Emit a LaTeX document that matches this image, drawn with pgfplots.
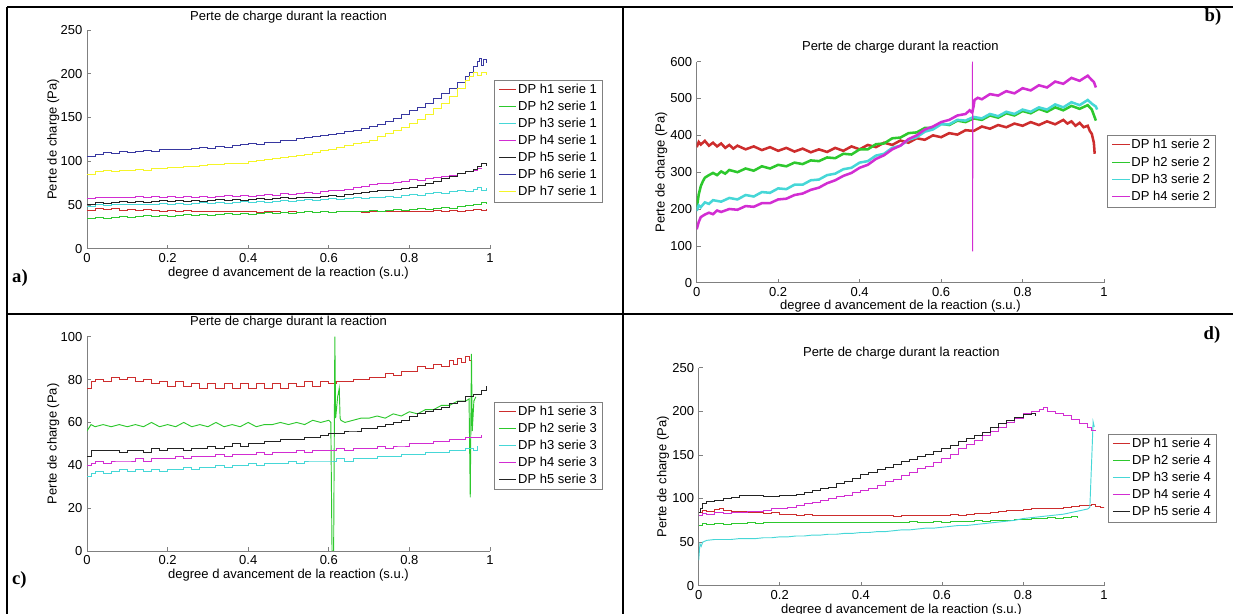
\documentclass[border=0pt]{standalone}
\usepackage{pgfplots}
\pgfplotsset{compat=1.18}
\usepackage{fontspec}
\setmainfont{Liberation Sans}
\newfontfamily\tnr{Liberation Serif}
\newcommand\fs{\fontsize{9.75}{11}\selectfont}
\definecolor{mred}{RGB}{205,45,45}
\definecolor{mgreen}{RGB}{45,200,45}
\definecolor{mcyan}{RGB}{70,215,215}
\definecolor{mmag}{RGB}{210,45,210}
\definecolor{mblack}{RGB}{35,35,35}
\definecolor{mblue}{RGB}{55,55,160}
\definecolor{myellow}{RGB}{245,245,40}
\pgfplotsset{
  mplot/.style={
    scale only axis,
    xmin=0, xmax=1, ymin=0,
    axis x line*=bottom, axis y line*=left,
    axis line style={color=gray, line width=0.6pt},
    tick align=inside,
    major tick length=3pt,
    tick style={color=gray, line width=0.5pt},
    xtick={0,0.2,0.4,0.6,0.8,1},
    xticklabels={0,0.2,0.4,0.6,0.8,1},
    /pgf/number format/assume math mode=true,
    tick label style={font=\fs},
    title={Perte de charge durant la reaction},
    every axis title shift=0pt,
    xlabel={degree d avancement de la reaction (s.u.)},
    ylabel={Perte de charge (Pa)},
    label style={font=\fs}, title style={font=\fs, anchor=center},
    xlabel style={anchor=center}, ylabel style={anchor=center},
    legend cell align=left,
    legend style={font=\fs, draw=gray, fill=white, inner xsep=3pt, inner ysep=1pt, row sep=0pt, anchor=north west,
      nodes={inner xsep=1pt, inner ysep=0pt, text height=9pt, text depth=3.75pt}},
    legend image code/.code={\draw[#1, line width=0.9pt] (0pt,0.4pt) -- (13pt,0.4pt);},
    every axis plot/.append style={line width=0.7pt},
  },
  bthick/.style={line width=1.9pt},
}
\begin{document}
\begin{tikzpicture}[x=0.75pt,y=0.75pt]
% table lines
\draw[line width=1.5pt] (7,606.7) -- (1233,606.7);
\draw[line width=1.5pt] (7,607.4) -- (7,0);
\draw[line width=1.5pt] (622.7,607.4) -- (622.7,0);
\draw[line width=1.5pt] (7,300.3) -- (1233,300.3);
\node[anchor=west,font=\tnr\bfseries\fontsize{14}{14}\selectfont] at (7.5,336) {a)};
\node[anchor=east,font=\tnr\bfseries\fontsize{14}{14}\selectfont] at (1226,597) {b)};
\node[anchor=west,font=\tnr\bfseries\fontsize{14}{14}\selectfont] at (7.5,34) {c)};
\node[anchor=east,font=\tnr\bfseries\fontsize{14}{14}\selectfont] at (1225,279) {d)};

% ---------------- panel a
\begin{axis}[mplot, at={(65.25pt,273.98pt)}, anchor=south west,
  width=302.25pt, height=164pt, ymax=250, ytick={0,50,100,150,200,250},
  title style={at={(axis description cs:0.5,1.058)}},
  xlabel style={at={(axis description cs:0.5,-0.1125)}},
  ylabel style={at={(axis description cs:-0.084,0.5)}},
  legend style={at={(axis description cs:1.010,0.7714)}}]
\addplot[mred, const plot] coordinates {(0,44)(0.02,46)(0.04,45)(0.06,46)(0.08,44)(0.1,45)(0.12,44)(0.14,45)(0.16,44)(0.18,43)(0.2,44)(0.22,43)(0.24,44)(0.26,43)(0.28,42)(0.3,43)(0.32,42)(0.34,43)(0.36,42)(0.38,43)(0.4,42)(0.42,41)(0.44,42)(0.46,43)(0.48,41)(0.5,42)(0.52,41)(0.54,42)(0.56,41)(0.58,42)(0.6,41)(0.62,42)(0.64,43)(0.66,42)(0.68,41)(0.7,42)(0.72,43)(0.74,42)(0.76,43)(0.78,42)(0.8,43)(0.82,42)(0.84,43)(0.86,44)(0.88,43)(0.9,44)(0.92,43)(0.94,44)(0.96,45)(0.98,44)(0.99,45)};
\addlegendentry{DP h1 serie 1}
\addplot[mgreen, const plot] coordinates {(0,34)(0.02,36)(0.04,35)(0.06,36)(0.08,37)(0.1,36)(0.12,37)(0.14,38)(0.16,37)(0.18,38)(0.2,37)(0.22,38)(0.24,39)(0.26,38)(0.28,39)(0.3,38)(0.32,39)(0.34,40)(0.36,39)(0.38,40)(0.4,39)(0.42,40)(0.44,41)(0.46,40)(0.48,41)(0.5,40)(0.52,41)(0.54,42)(0.56,41)(0.58,42)(0.6,41)(0.62,42)(0.64,43)(0.66,42)(0.68,43)(0.7,44)(0.72,43)(0.74,44)(0.76,45)(0.78,44)(0.8,45)(0.82,46)(0.84,45)(0.86,46)(0.88,47)(0.9,46)(0.92,48)(0.94,49)(0.96,50)(0.98,53)(0.99,51)};
\addlegendentry{DP h2 serie 1}
\addplot[mcyan, const plot] coordinates {(0,48)(0.02,50)(0.04,49)(0.06,50)(0.08,51)(0.1,50)(0.12,51)(0.14,50)(0.16,51)(0.18,52)(0.2,51)(0.22,52)(0.24,51)(0.26,52)(0.28,53)(0.3,52)(0.32,53)(0.34,52)(0.36,53)(0.38,54)(0.4,53)(0.42,54)(0.44,53)(0.46,54)(0.48,55)(0.5,54)(0.52,55)(0.54,56)(0.56,55)(0.58,56)(0.6,57)(0.62,56)(0.64,57)(0.66,58)(0.68,57)(0.7,58)(0.72,59)(0.74,60)(0.76,59)(0.78,61)(0.8,62)(0.82,61)(0.84,63)(0.86,64)(0.88,63)(0.9,65)(0.92,66)(0.94,65)(0.96,68)(0.97,70)(0.98,67)(0.99,69)};
\addlegendentry{DP h3 serie 1}
\addplot[mmag, const plot] coordinates {(0,57)(0.02,59)(0.04,58)(0.06,59)(0.08,58)(0.1,59)(0.12,60)(0.14,58)(0.16,60)(0.18,59)(0.2,60)(0.22,59)(0.24,60)(0.26,59)(0.28,60)(0.3,59)(0.32,60)(0.34,61)(0.36,60)(0.38,61)(0.4,60)(0.42,61)(0.44,62)(0.46,61)(0.48,63)(0.5,62)(0.52,63)(0.54,64)(0.56,63)(0.58,65)(0.6,66)(0.62,67)(0.64,68)(0.66,70)(0.68,71)(0.7,73)(0.72,74)(0.74,75)(0.76,76)(0.78,77)(0.8,79)(0.82,78)(0.84,80)(0.86,81)(0.88,83)(0.9,84)(0.92,86)(0.94,88)(0.96,90)(0.97,92)(0.98,91)};
\addlegendentry{DP h4 serie 1}
\addplot[mblack, const plot] coordinates {(0,51)(0.02,53)(0.04,52)(0.06,53)(0.08,54)(0.1,53)(0.12,54)(0.14,53)(0.16,54)(0.18,55)(0.2,54)(0.22,55)(0.24,54)(0.26,55)(0.28,54)(0.3,55)(0.32,56)(0.34,55)(0.36,56)(0.38,55)(0.4,56)(0.42,57)(0.44,56)(0.46,57)(0.48,58)(0.5,57)(0.52,58)(0.54,59)(0.56,58)(0.58,60)(0.6,61)(0.62,60)(0.64,62)(0.66,63)(0.68,64)(0.7,65)(0.72,66)(0.74,67)(0.76,68)(0.78,69)(0.8,70)(0.82,72)(0.84,75)(0.86,77)(0.88,80)(0.9,83)(0.92,86)(0.94,88)(0.96,91)(0.97,94)(0.98,97)(0.99,95)};
\addlegendentry{DP h5 serie 1}
\addplot[mblue, const plot] coordinates {(0,105)(0.02,108)(0.04,110)(0.06,109)(0.08,111)(0.1,110)(0.12,111)(0.14,112)(0.16,111)(0.18,114)(0.2,113)(0.22,114)(0.24,113)(0.26,115)(0.28,116)(0.3,115)(0.32,117)(0.34,116)(0.36,118)(0.38,119)(0.4,120)(0.42,119)(0.44,121)(0.46,122)(0.48,124)(0.5,124)(0.52,126)(0.54,127)(0.56,128)(0.58,129)(0.6,131)(0.62,132)(0.64,134)(0.66,135)(0.68,137)(0.7,140)(0.72,142)(0.74,146)(0.76,149)(0.78,153)(0.8,158)(0.82,162)(0.84,166)(0.86,172)(0.88,177)(0.9,183)(0.92,190)(0.94,197)(0.95,202)(0.96,208)(0.97,214)(0.975,218)(0.98,209)(0.985,216)(0.99,212)};
\addlegendentry{DP h6 serie 1}
\addplot[myellow, const plot] coordinates {(0,85)(0.02,88)(0.04,89)(0.06,88)(0.08,90)(0.1,90)(0.12,91)(0.14,90)(0.16,92)(0.18,92)(0.2,93)(0.22,93)(0.24,94)(0.26,94)(0.28,95)(0.3,96)(0.32,96)(0.34,97)(0.36,98)(0.38,98)(0.4,100)(0.42,101)(0.44,102)(0.46,103)(0.48,104)(0.5,105)(0.52,107)(0.54,108)(0.56,110)(0.58,112)(0.6,114)(0.62,116)(0.64,118)(0.66,120)(0.68,122)(0.7,124)(0.72,128)(0.74,132)(0.76,135)(0.78,139)(0.8,143)(0.82,148)(0.84,153)(0.86,160)(0.88,166)(0.9,174)(0.92,183)(0.94,192)(0.95,197)(0.96,202)(0.97,198)(0.98,201)(0.99,199)};
\addlegendentry{DP h7 serie 1}
\end{axis}

% ---------------- panel b
\begin{axis}[mplot, at={(522.53pt,248.48pt)}, anchor=south west,
  width=305.5pt, height=165.75pt, ymax=600, ytick={0,100,200,300,400,500,600},
  title style={at={(axis description cs:0.5,1.068)}},
  xlabel style={at={(axis description cs:0.5,-0.106)}},
  ylabel style={at={(axis description cs:-0.087,0.5)}},
  legend style={at={(axis description cs:1.008,0.668)}, nodes={text height=9.2pt, text depth=3.8pt}}]
\addplot[mred, bthick] coordinates {(0,368)(0.005,382)(0.01,375)(0.02,385)(0.03,372)(0.04,380)(0.05,370)(0.06,378)(0.07,366)(0.08,374)(0.09,364)(0.1,372)(0.12,362)(0.14,370)(0.16,360)(0.18,368)(0.2,358)(0.22,366)(0.24,356)(0.26,364)(0.28,354)(0.3,362)(0.32,355)(0.34,366)(0.36,358)(0.38,370)(0.4,362)(0.42,374)(0.44,368)(0.46,380)(0.48,374)(0.5,386)(0.52,380)(0.54,392)(0.56,388)(0.58,400)(0.6,395)(0.62,406)(0.64,402)(0.66,414)(0.68,412)(0.7,424)(0.72,418)(0.74,428)(0.76,422)(0.78,432)(0.8,426)(0.82,436)(0.84,428)(0.86,438)(0.88,430)(0.9,442)(0.91,432)(0.92,438)(0.93,426)(0.94,434)(0.95,422)(0.96,426)(0.965,412)(0.97,404)(0.975,380)(0.977,350)};
\addlegendentry{DP h1 serie 2}
\addplot[mgreen, bthick] coordinates {(0,200)(0.005,240)(0.01,262)(0.015,275)(0.02,285)(0.03,292)(0.04,298)(0.05,292)(0.06,302)(0.07,296)(0.08,306)(0.1,300)(0.12,310)(0.14,304)(0.16,316)(0.18,310)(0.2,320)(0.22,316)(0.24,326)(0.26,322)(0.28,332)(0.3,330)(0.32,340)(0.34,338)(0.36,350)(0.38,348)(0.4,362)(0.42,362)(0.44,376)(0.46,378)(0.48,392)(0.5,394)(0.52,406)(0.54,408)(0.56,420)(0.58,420)(0.6,432)(0.62,428)(0.64,440)(0.66,436)(0.68,446)(0.7,442)(0.72,454)(0.74,448)(0.76,460)(0.78,454)(0.8,466)(0.82,460)(0.84,472)(0.86,464)(0.88,476)(0.9,468)(0.92,480)(0.94,472)(0.96,482)(0.97,470)(0.975,455)(0.98,440)};
\addlegendentry{DP h2 serie 2}
\addplot[mcyan, bthick] coordinates {(0,195)(0.005,210)(0.01,205)(0.02,218)(0.03,214)(0.04,224)(0.06,220)(0.08,230)(0.1,226)(0.12,238)(0.14,234)(0.16,246)(0.18,244)(0.2,256)(0.22,254)(0.24,266)(0.26,266)(0.28,278)(0.3,280)(0.32,292)(0.34,296)(0.36,308)(0.38,312)(0.4,326)(0.42,330)(0.44,345)(0.46,350)(0.48,366)(0.5,372)(0.52,388)(0.54,395)(0.56,410)(0.58,416)(0.6,430)(0.62,430)(0.64,442)(0.66,440)(0.68,450)(0.7,446)(0.72,458)(0.74,452)(0.76,464)(0.78,458)(0.8,470)(0.82,464)(0.84,476)(0.86,470)(0.88,484)(0.9,476)(0.92,490)(0.94,482)(0.96,496)(0.97,486)(0.98,478)(0.983,470)};
\addlegendentry{DP h3 serie 2}
\addplot[mmag, bthick] coordinates {(0,145)(0.005,165)(0.01,178)(0.02,185)(0.03,190)(0.04,186)(0.05,196)(0.06,192)(0.08,200)(0.1,198)(0.12,208)(0.14,206)(0.16,216)(0.18,216)(0.2,226)(0.22,228)(0.24,238)(0.26,242)(0.28,252)(0.3,258)(0.32,270)(0.34,278)(0.36,290)(0.38,298)(0.4,312)(0.42,320)(0.44,336)(0.46,346)(0.48,362)(0.5,372)(0.52,390)(0.54,400)(0.56,416)(0.58,424)(0.6,436)(0.62,442)(0.64,454)(0.66,458)(0.67,468)(0.676,462)(0.677,465)(0.68,480)(0.682,496)(0.69,502)(0.7,498)(0.72,512)(0.74,508)(0.76,520)(0.78,514)(0.8,528)(0.82,522)(0.84,536)(0.86,530)(0.88,546)(0.9,540)(0.92,556)(0.94,548)(0.96,562)(0.97,550)(0.975,545)(0.98,530)};
\addlegendentry{DP h4 serie 2}
\addplot[mmag, line width=0.7pt, forget plot] coordinates {(0.6765,465)(0.677,600)(0.6775,85)(0.678,480)};
\end{axis}

% ---------------- panel c
\begin{axis}[mplot, at={(65.25pt,47.25pt)}, anchor=south west,
  width=302.25pt, height=160.7pt, ymax=100, ytick={0,20,40,60,80,100},
  title style={at={(axis description cs:0.5,1.068)}},
  xlabel style={at={(axis description cs:0.5,-0.112)}},
  ylabel style={at={(axis description cs:-0.084,0.5)}},
  legend style={at={(axis description cs:1.010,0.6967)}}]
\addplot[mred, const plot] coordinates {(0,76)(0.01,79)(0.02,80)(0.04,79)(0.06,81)(0.08,80)(0.1,81)(0.12,79)(0.14,80)(0.16,78)(0.18,79)(0.2,77)(0.22,79)(0.24,77)(0.26,78)(0.28,76)(0.3,78)(0.32,76)(0.34,78)(0.36,76)(0.38,78)(0.4,76)(0.42,78)(0.44,76)(0.46,78)(0.48,76)(0.5,78)(0.52,77)(0.54,79)(0.56,77)(0.58,79)(0.6,78)(0.62,79)(0.64,79)(0.66,80)(0.68,80)(0.7,81)(0.72,81)(0.74,83)(0.76,82)(0.78,84)(0.8,84)(0.82,86)(0.84,85)(0.86,87)(0.88,86)(0.9,89)(0.91,87)(0.92,90)(0.93,88)(0.94,91)(0.95,89)(0.953,92)};
\addlegendentry{DP h1 serie 3}
\addplot[mgreen] coordinates {(0,56)(0.01,59)(0.02,58)(0.04,59)(0.06,58)(0.08,59)(0.1,58)(0.12,59)(0.14,58)(0.16,60)(0.18,58)(0.2,59)(0.22,58)(0.24,60)(0.26,58)(0.28,59)(0.3,58)(0.32,60)(0.34,58)(0.36,59)(0.38,58)(0.4,60)(0.42,58)(0.44,59)(0.46,59)(0.48,60)(0.5,59)(0.52,60)(0.54,59)(0.56,61)(0.58,60)(0.6,61)(0.605,60)(0.608,0)(0.612,0)(0.615,100)(0.617,62)(0.622,72)(0.626,76)(0.628,62)(0.63,61)(0.64,60)(0.66,61)(0.68,62)(0.7,62)(0.72,63)(0.74,62)(0.76,64)(0.78,63)(0.8,65)(0.82,64)(0.84,66)(0.86,66)(0.88,68)(0.9,68)(0.92,70)(0.94,70)(0.948,71)(0.951,25)(0.954,92)(0.956,56)(0.96,70)(0.965,72)};
\addlegendentry{DP h2 serie 3}
\addplot[mcyan, const plot] coordinates {(0,35)(0.01,36)(0.02,37)(0.04,36)(0.06,37)(0.08,38)(0.1,37)(0.12,38)(0.14,37)(0.16,38)(0.18,37)(0.2,38)(0.22,38)(0.24,39)(0.26,38)(0.28,39)(0.3,39)(0.32,40)(0.34,39)(0.36,40)(0.38,40)(0.4,41)(0.42,40)(0.44,41)(0.46,41)(0.48,41)(0.5,42)(0.52,41)(0.54,42)(0.56,42)(0.58,42)(0.6,42)(0.62,43)(0.64,42)(0.66,43)(0.68,43)(0.7,43)(0.72,44)(0.74,44)(0.76,44)(0.78,45)(0.8,45)(0.82,45)(0.84,46)(0.86,46)(0.88,46)(0.9,47)(0.92,47)(0.94,48)(0.96,47)(0.97,49)};
\addlegendentry{DP h3 serie 3}
\addplot[mmag, const plot] coordinates {(0,40)(0.01,41)(0.02,42)(0.04,41)(0.06,42)(0.08,42)(0.1,42)(0.12,43)(0.14,42)(0.16,43)(0.18,43)(0.2,43)(0.22,44)(0.24,43)(0.26,44)(0.28,44)(0.3,44)(0.32,45)(0.34,44)(0.36,45)(0.38,45)(0.4,45)(0.42,46)(0.44,45)(0.46,46)(0.48,46)(0.5,46)(0.52,47)(0.54,46)(0.56,47)(0.58,47)(0.6,47)(0.62,48)(0.64,47)(0.66,48)(0.68,48)(0.7,48)(0.72,49)(0.74,48)(0.76,49)(0.78,49)(0.8,50)(0.82,50)(0.84,50)(0.86,51)(0.88,51)(0.9,52)(0.92,52)(0.94,53)(0.96,53)(0.98,54)};
\addlegendentry{DP h4 serie 3}
\addplot[mblack, const plot] coordinates {(0,44)(0.01,47)(0.02,47)(0.04,47)(0.06,47)(0.08,46)(0.1,47)(0.12,47)(0.14,46)(0.16,48)(0.18,47)(0.2,48)(0.22,48)(0.24,47)(0.26,48)(0.28,48)(0.3,49)(0.32,48)(0.34,49)(0.36,50)(0.38,49)(0.4,50)(0.42,50)(0.44,51)(0.46,51)(0.48,52)(0.5,52)(0.52,52)(0.54,53)(0.56,53)(0.58,54)(0.6,55)(0.62,55)(0.64,56)(0.66,56)(0.68,57)(0.7,57)(0.72,58)(0.74,59)(0.76,60)(0.78,61)(0.8,63)(0.82,64)(0.84,65)(0.86,66)(0.88,67)(0.9,69)(0.92,70)(0.94,72)(0.96,73)(0.98,75)(0.99,77)};
\addlegendentry{DP h5 serie 3}
\end{axis}

% ---------------- panel d
\begin{axis}[mplot, at={(524.03pt,21.23pt)}, anchor=south west,
  width=304pt, height=163.5pt, ymax=250, ytick={0,50,100,150,200,250},
  title style={at={(axis description cs:0.5,1.066)}},
  xlabel style={at={(axis description cs:0.5,-0.111)}},
  ylabel style={at={(axis description cs:-0.088,0.5)}},
  legend style={at={(axis description cs:1.010,0.6945)}}]
\addplot[mred, const plot] coordinates {(0,84)(0.01,86)(0.02,85)(0.04,87)(0.05,88)(0.06,86)(0.08,85)(0.1,85)(0.12,84)(0.14,84)(0.16,83)(0.18,84)(0.2,82)(0.22,82)(0.24,81)(0.26,82)(0.28,81)(0.3,81)(0.32,81)(0.34,80)(0.36,81)(0.38,80)(0.4,80)(0.42,81)(0.44,80)(0.46,80)(0.48,79)(0.5,80)(0.52,80)(0.54,81)(0.56,80)(0.58,81)(0.6,81)(0.62,82)(0.64,81)(0.66,82)(0.68,83)(0.7,83)(0.72,84)(0.74,85)(0.76,86)(0.78,86)(0.8,87)(0.82,88)(0.84,88)(0.86,89)(0.88,89)(0.9,90)(0.92,91)(0.94,92)(0.96,92)(0.97,93)(0.98,91)(0.99,90)(1.0,89)};
\addlegendentry{DP h1 serie 4}
\addplot[mgreen, const plot] coordinates {(0,69)(0.01,71)(0.02,70)(0.04,71)(0.06,70)(0.08,71)(0.1,71)(0.12,72)(0.14,71)(0.16,72)(0.18,72)(0.2,73)(0.22,72)(0.24,72)(0.26,73)(0.28,72)(0.3,72)(0.32,73)(0.34,72)(0.36,73)(0.38,73)(0.4,72)(0.42,73)(0.44,73)(0.46,72)(0.48,73)(0.5,73)(0.52,74)(0.54,73)(0.56,73)(0.58,74)(0.6,73)(0.62,74)(0.64,74)(0.66,74)(0.68,75)(0.7,74)(0.72,75)(0.74,75)(0.76,75)(0.78,76)(0.8,76)(0.82,77)(0.84,77)(0.86,78)(0.88,77)(0.9,78)(0.92,79)(0.935,78)};
\addlegendentry{DP h2 serie 4}
\addplot[mcyan] coordinates {(0,29)(0.003,48)(0.006,45)(0.01,50)(0.02,52)(0.04,53)(0.06,53)(0.08,53)(0.1,54)(0.12,54)(0.14,54)(0.16,55)(0.18,55)(0.2,56)(0.22,56)(0.24,57)(0.26,57)(0.28,58)(0.3,58)(0.32,59)(0.34,59)(0.36,60)(0.38,60)(0.4,61)(0.42,61)(0.44,62)(0.46,62)(0.48,63)(0.5,64)(0.52,64)(0.54,65)(0.56,66)(0.58,66)(0.6,67)(0.62,68)(0.64,69)(0.66,69)(0.68,70)(0.7,71)(0.72,72)(0.74,73)(0.76,74)(0.78,75)(0.8,77)(0.82,78)(0.84,79)(0.86,80)(0.88,81)(0.9,82)(0.92,84)(0.94,86)(0.96,88)(0.965,90)(0.97,150)(0.973,188)(0.976,182)};
\addlegendentry{DP h3 serie 4}
\addplot[mmag, const plot] coordinates {(0,80)(0.01,83)(0.02,82)(0.04,84)(0.06,83)(0.08,84)(0.1,84)(0.12,85)(0.14,85)(0.16,86)(0.18,88)(0.2,89)(0.22,90)(0.24,92)(0.26,94)(0.28,96)(0.3,98)(0.32,100)(0.34,102)(0.36,104)(0.38,107)(0.4,109)(0.42,112)(0.44,115)(0.46,119)(0.48,122)(0.5,126)(0.52,130)(0.54,134)(0.56,137)(0.58,141)(0.6,146)(0.62,151)(0.64,157)(0.66,162)(0.68,167)(0.7,172)(0.72,177)(0.74,182)(0.76,187)(0.78,192)(0.8,197)(0.82,200)(0.84,202)(0.85,204)(0.86,200)(0.88,198)(0.9,195)(0.92,191)(0.94,186)(0.96,181)(0.97,178)(0.98,178)};
\addlegendentry{DP h4 serie 4}
\addplot[mblack, const plot] coordinates {(0,84)(0.005,88)(0.01,94)(0.02,97)(0.04,98)(0.06,100)(0.08,101)(0.1,103)(0.12,104)(0.14,103)(0.16,102)(0.18,102)(0.2,103)(0.22,104)(0.24,105)(0.26,107)(0.28,109)(0.3,111)(0.32,113)(0.34,117)(0.36,120)(0.38,123)(0.4,127)(0.42,130)(0.44,133)(0.46,136)(0.48,139)(0.5,142)(0.52,145)(0.54,148)(0.56,151)(0.58,154)(0.6,157)(0.62,161)(0.64,165)(0.66,169)(0.68,172)(0.7,176)(0.72,181)(0.74,186)(0.76,190)(0.78,193)(0.8,196)(0.82,197)(0.83,195)};
\addlegendentry{DP h5 serie 4}
\end{axis}
\pgfresetboundingbox
\path (0,0) rectangle (1233,614);
\end{tikzpicture}
\end{document}
